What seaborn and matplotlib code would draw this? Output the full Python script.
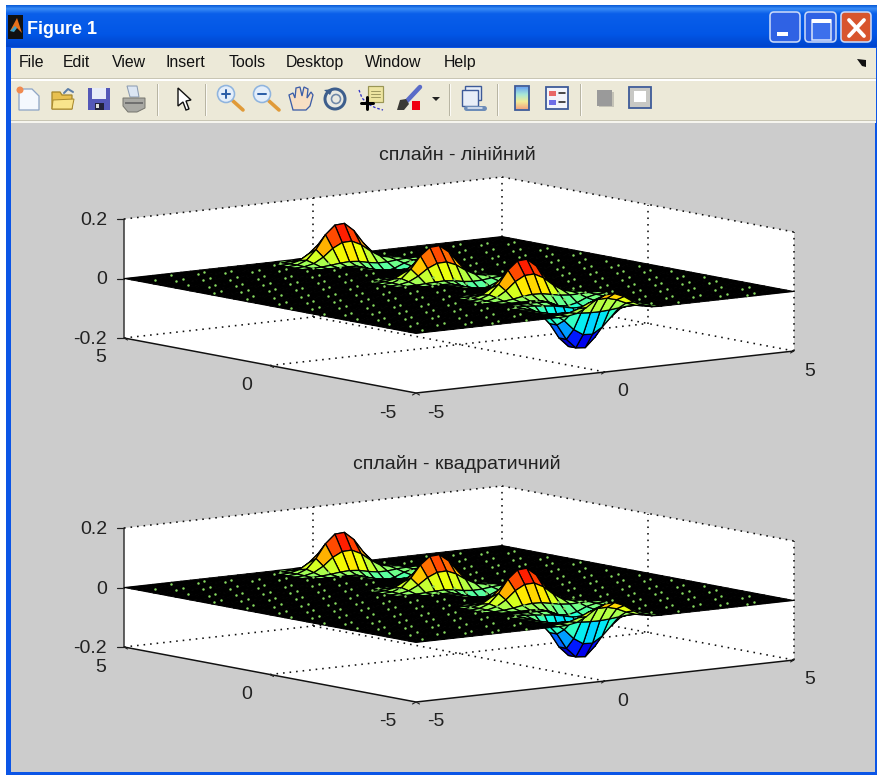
import numpy as np
import matplotlib
matplotlib.use("Agg")
import matplotlib.pyplot as plt
import seaborn as sns
from matplotlib.collections import PolyCollection
from matplotlib.colors import Normalize, LinearSegmentedColormap
from matplotlib.patches import Rectangle, Polygon, Circle, FancyBboxPatch
from matplotlib.path import Path

# ---------- data ----------
grid_step = 0.25
grid_min = -5.0
# hills: profile along the diagonal axis (index 0 = -5 ... index 40 = +5)
hill_v = [0.06, 0.04, -0.01, -0.09, -0.14, -0.14, -0.08, -0.01, 0, 0, 0.015,
          0.075, 0.12, 0.075, 0.015, 0, 0, 0, 0, 0, 0,
          0, 0.005, 0.06, 0.11, 0.065, 0.01, 0, 0, 0, 0,
          0, 0, 0, 0, 0.01, 0.07, 0.125, 0.075, 0.015, 0]
# hills: envelope across the other axis (index 0 = -5 ... index 40 = +5)
hill_u = [0, 0, 0, 0, 0, 0, 0, 0, 0, 0, 0, 0, 0, 0, 0, 0,
          0.02, 0.12, 0.38, 0.75, 0.98, 1.0, 0.78, 0.42, 0.14, 0.03,
          0, 0, 0, 0, 0, 0, 0, 0, 0, 0, 0, 0, 0, 0, 0]
# shallow troughs next to each hill
trough_v = [0, 0, 0, 0, 0, 0, 0, -0.02, -0.045, -0.03, -0.005,
            0, 0, 0, 0, 0, 0, 0, -0.01, -0.03, -0.045,
            -0.03, -0.01, 0, 0, 0, 0, 0, 0, 0, 0,
            -0.01, -0.03, -0.045, -0.03, -0.01, 0, 0, 0, 0, 0]
trough_u = [0, 0, 0, 0, 0, 0, 0, 0, 0, 0, 0, 0, 0, 0, 0, 0, 0, 0, 0, 0,
            0.05, 0.35, 0.85, 1.0, 0.75, 0.3, 0.05,
            0, 0, 0, 0, 0, 0, 0, 0, 0, 0, 0, 0, 0, 0]
titles = ["сплайн - лінійний", "сплайн - квадратичний"]
z_ticks = [-0.2, 0.0, 0.2]
z_tick_labels = ["-0.2", "0", "0.2"]
xy_ticks = [-5, 0, 5]
xy_tick_labels = ["-5", "0", "5"]
menu_items = ["File", "Edit", "View", "Insert", "Tools", "Desktop", "Window", "Help"]
menu_x = [19, 63, 112, 166, 229, 286, 365, 444]
window_title = "Figure 1"

# ---------- view geometry ----------
W, H = 879, 775
FRONT = np.array([416.0, 393.0])     # u=-5, v=-5, z=-0.2 in pixels
U_VEC = np.array([37.8, -4.2])
V_VEC = np.array([-29.2, -5.5])
Z_SCALE = 297.5
PANEL_OFFSETS = [0, 309]
Z_MIN, Z_MAX = -0.2, 0.2
LEFT_LABEL_DX = [-28, -23, -23]
RIGHT_LABEL_DX = [20, 18, 16]

sns.set_theme(style="white")
plt.rcParams["font.family"] = ["Liberation Sans", "DejaVu Sans"]
jet = matplotlib.colormaps["jet"]
norm = Normalize(-0.14, 0.13)
TXT = "#222222"

fig = plt.figure(figsize=(W / 100, H / 100), dpi=100, facecolor="white")
ax = fig.add_axes([0, 0, 1, 1])


def project(u, v, z, dy=0):
    u, v, z = np.asarray(u, float), np.asarray(v, float), np.asarray(z, float)
    x = FRONT[0] + (u + 5) * U_VEC[0] + (v + 5) * V_VEC[0]
    y = FRONT[1] + (u + 5) * U_VEC[1] + (v + 5) * V_VEC[1] - (z - Z_MIN) * Z_SCALE + dy
    return x, y


def px(lw):
    return lw * 0.72


# ---------- window chrome ----------
def rect(x0, y0, x1, y1, color, z=1, **kw):
    ax.add_patch(Rectangle((x0, y0), x1 - x0, y1 - y0, facecolor=color, edgecolor="none", zorder=z, **kw))


def chrome():
    rect(6, 5, 877, 775, "#0B55E6", 0.1)
    grad = LinearSegmentedColormap.from_list(
        "t", [(0, "#0A5CD8"), (0.08, "#3A8CF5"), (0.2, "#0A5FEA"), (0.7, "#0256E6"), (1, "#0044CC")])
    ax.imshow(np.linspace(0, 1, 64)[:, None], extent=(6, 877, 47, 5), cmap=grad, aspect="auto", zorder=0.2)
    rect(11, 123, 875, 772, "#CCCCCC", 0.3)
    rect(11, 48, 876, 123, "#ECE9D8", 0.3)
    rect(11, 77.5, 876, 79, "#C9C6B4", 0.4)
    rect(11, 79, 876, 80.5, "#FFFFFF", 0.4)
    rect(11, 119.5, 876, 121, "#C9C6B4", 0.4)
    rect(11, 121, 876, 123, "#F6F5EE", 0.4)
    # window icon
    rect(8, 15, 23, 39, "#111111", 1)
    ax.add_patch(Polygon([(10, 31), (17, 18), (22, 33), (17, 28)], facecolor="#E8701A", edgecolor="none", zorder=1.1))
    ax.add_patch(Polygon([(10, 31), (15, 26), (17, 28), (14, 32)], facecolor="#3FA0C8", edgecolor="none", zorder=1.2))
    ax.text(27, 29, window_title, color="white", fontsize=13, fontweight="bold",
            family=["Liberation Sans Narrow", "Liberation Sans"], va="center", ha="left", zorder=2)
    # window buttons
    for x0, x1, col in [(770, 800, "#2F62E4"), (805, 836, "#2F62E4"), (841, 871, "#D8552E")]:
        ax.add_patch(FancyBboxPatch((x0 + 3, 15), x1 - x0 - 6, 24, boxstyle="round,pad=3,rounding_size=4",
                                    facecolor=col, edgecolor="#C8D8F8", linewidth=px(1.6), zorder=1))
    rect(777, 32, 788, 36, "white", 2)
    ax.add_patch(Rectangle((812, 20), 19, 20, facecolor="#3C70EC", edgecolor="#DDE7FB", linewidth=px(1.5), zorder=2))
    rect(812, 19, 831, 23, "white", 2)
    ax.plot([849, 864], [20, 36], color="white", lw=px(3.8), zorder=2)
    ax.plot([849, 864], [36, 20], color="white", lw=px(3.8), zorder=2)
    # menu
    for name, x in zip(menu_items, menu_x):
        ax.text(x, 62.5, name, fontsize=11.4, color="#111111", va="center", ha="left", zorder=2)
    ax.add_patch(Polygon([(857, 59), (866, 60), (866, 67), (862, 66)], facecolor="#111111", edgecolor="none", zorder=2))
    # separators
    for x in [158, 206, 450, 498, 581]:
        rect(x - 0.7, 84, x + 0.3, 116, "#B8B5A3", 1)
        rect(x + 0.3, 84, x + 1.2, 116, "#FBFAF5", 1)

    def P(pts, fc, ec="none", lw=1.0, z=2):
        ax.add_patch(Polygon(pts, closed=True, facecolor=fc, edgecolor=ec, linewidth=px(lw), zorder=z))

    DK = "#3D5A98"
    # new
    P([(19, 89), (32, 89), (39, 96), (39, 110), (19, 110)], "#F4F8FE", "#8FA6C6", 1.3)
    ax.add_patch(Circle((20, 90), 3.5, facecolor="#F08A50", edgecolor="none", zorder=3))
    # open
    P([(52, 92), (60, 92), (62, 95), (72, 95), (72, 109), (52, 109)], "#E8C050", "#A8882C", 1.3)
    P([(53, 100), (74, 99), (72, 109), (52, 109)], "#F9E48C", "#A8882C", 1)
    ax.plot([64, 68, 73], [93, 89, 92], color="#5D7EA8", lw=px(2), zorder=3)
    # save
    rect(88, 88, 110, 110, "#5458B8", 2)
    rect(92, 88, 106, 99, "#E8ECF8", 3)
    rect(95, 103, 104, 110, "#22223A", 3)
    rect(96, 104, 99, 108, "#DDDDDD", 4)
    # print
    P([(127, 86), (137, 86), (139, 97), (130, 97)], "#DCE6F3", "#8A9AB0", 1)
    P([(123, 98), (145, 98), (145, 108), (137, 112), (128, 112), (123, 106)], "#A9A9A4", "#777770", 1)
    rect(125, 102, 143, 104, "#707070", 3)
    # arrow
    P([(178, 88), (178, 106), (183, 102), (186, 110), (189, 109), (186, 101), (191, 100)], "white", "#111111", 1.4)

    def magnifier(cx, cy, col_sign, plus):
        ax.plot([cx + 7, cx + 17], [cy + 7, cy + 16], color="#E09A38", lw=px(3.6), zorder=2, solid_capstyle="round")
        ax.add_patch(Circle((cx, cy), 8.5, facecolor="#E4EEFA", edgecolor="#8FB4DE", linewidth=px(1.6), zorder=3))
        ax.plot([cx - 4, cx + 4], [cy, cy], color=col_sign, lw=px(2), zorder=4)
        if plus:
            ax.plot([cx, cx], [cy - 4, cy + 4], color=col_sign, lw=px(2), zorder=4)

    magnifier(226, 94, "#2D5FA8", True)
    magnifier(262, 94, "#2D5FA8", False)
    # hand
    P([(293, 110), (289, 95), (293, 93), (295, 98), (296, 88), (300, 87), (302, 96), (304, 87), (308, 89),
       (307, 98), (311, 92), (313, 95), (310, 106), (306, 110)], "#F8DFC4", "#3D5EA8", 1.3)
    # rotate
    ax.add_patch(Circle((335, 99), 10, facecolor="#E9E9E2", edgecolor="#3D5E8C", linewidth=px(3), zorder=2))
    ax.add_patch(Circle((336, 99), 4.5, facecolor="#E9E9E2", edgecolor="#6F88A8", linewidth=px(1.6), zorder=3))
    P([(324, 90), (333, 89), (330, 95)], "#3D5E8C")
    # data cursor
    rect(368, 86, 383, 102, "#EDE4A0", 2)
    ax.add_patch(Rectangle((368, 86), 15, 16, facecolor="none", edgecolor="#9A9655", linewidth=px(1.2), zorder=3))
    for y in (91, 94, 97):
        ax.plot([371, 380], [y, y], color="#A09A60", lw=px(1), zorder=3)
    ax.plot([359, 362, 368, 376, 383], [90, 98, 104, 108, 110], color="#3030C8", lw=px(1.3), ls=(0, (2, 1.5)), zorder=2)
    ax.plot([361, 373], [103, 103], color="black", lw=px(3), zorder=4)
    ax.plot([367, 367], [97, 109], color="black", lw=px(3), zorder=4)
    # brush
    ax.plot([405, 420], [103, 87], color="#5A6CC8", lw=px(4.5), zorder=2)
    P([(397, 110), (400, 100), (406, 99), (409, 104), (404, 110)], "#3A3A36")
    rect(412, 101, 420, 110, "#F00010", 3)
    P([(432, 97), (440, 97), (436, 101)], "#222222")
    # link
    rect(465, 86, 481, 100, "#E8EEF8", 2)
    ax.add_patch(Rectangle((465, 86), 16, 14, facecolor="none", edgecolor=DK, linewidth=px(1.4), zorder=3))
    rect(462, 90, 478, 106, "#E8EEF8", 3)
    ax.add_patch(Rectangle((462, 90), 16, 16, facecolor="none", edgecolor=DK, linewidth=px(1.4), zorder=4))
    ax.plot([466, 475], [108, 108], color="#6C8CB8", lw=px(5), zorder=5, solid_capstyle="round")
    ax.plot([474, 484], [108, 108], color="#6C8CB8", lw=px(5), zorder=5, solid_capstyle="round")
    ax.plot([468, 482], [108, 108], color="#E8EEF8", lw=px(1.5), zorder=6)
    # colorbar
    cb = LinearSegmentedColormap.from_list("c", ["#6FA8F0", "#A8E8D8", "#F2EC98", "#F2A880"])
    ax.imshow(np.linspace(0, 1, 32)[:, None], extent=(515, 529, 109, 87), cmap=cb, aspect="auto", zorder=2)
    ax.add_patch(Rectangle((515, 86), 14.5, 23.5, facecolor="none", edgecolor=DK, linewidth=px(1.8), zorder=3))
    # legend
    rect(546, 87, 568, 109, "#F2F4FA", 2)
    ax.add_patch(Rectangle((546, 87), 22, 22, facecolor="none", edgecolor=DK, linewidth=px(1.8), zorder=3))
    rect(549, 91, 556, 96, "#E86868", 3)
    rect(549, 100, 556, 105, "#6E6EE6", 3)
    ax.plot([559, 565], [93, 93], color="#222222", lw=px(1.6), zorder=3)
    ax.plot([559, 565], [102, 102], color="#222222", lw=px(1.6), zorder=3)
    # gray square
    rect(599, 92, 614, 107, "#C4C2B6", 2)
    rect(597, 90, 612, 106, "#9A9A9A", 3)
    # panel
    rect(629, 88, 651, 108, "#C8C8C4", 2)
    rect(634, 91, 646, 102, "#FFFFFF", 3)
    ax.add_patch(Rectangle((629, 87), 22, 20.5, facecolor="none", edgecolor=DK, linewidth=px(1.8), zorder=4))


# ---------- one 3-D panel ----------
axis_vals = grid_min + grid_step * np.arange(len(hill_v))
UU, VV = np.meshgrid(axis_vals, axis_vals, indexing="ij")
ZZ = np.outer(hill_u, hill_v) + np.outer(trough_u, trough_v)

# dot rows left by the dense mesh on the flat part of the surface (rows come in close pairs)
row_spacing_u = 1.0
row_pair_offset = 0.3
dot_step = np.array([-0.36, -0.61]) * 1.3
rows = np.r_[np.arange(-12, 14) * row_spacing_u, np.arange(-12, 14) * row_spacing_u + row_pair_offset]
steps = np.arange(-14, 15)


def panel(dy, title):
    P = lambda u, v, z: project(u, v, z, dy)
    # white box: outline of the visible faces
    hex_u = [-5, -5, 5, 5, 5, -5]
    hex_v = [5, 5, 5, -5, -5, -5]
    hex_z = [-0.2, 0.2, 0.2, 0.2, -0.2, -0.2]
    cx, cy = P(hex_u, hex_v, hex_z)
    ax.add_patch(Polygon(np.c_[cx, cy], facecolor="white", edgecolor="none", zorder=3))

    # dotted box edges and grid
    dot = dict(color="#111111", lw=px(1.6), ls=(0, (1, 3.1)), zorder=3.5, dash_capstyle="butt")
    lines = [
        ([-5, 5], [5, 5], [0.2, 0.2]), ([5, 5], [5, -5], [0.2, 0.2]),
        ([5, 5], [5, 5], [-0.2, 0.2]), ([5, 5], [-5, -5], [-0.2, 0.2]),
        ([0, 0], [5, 5], [-0.2, 0.2]), ([5, 5], [0, 0], [-0.2, 0.2]),
        ([-5, 5], [5, 5], [-0.2, -0.2]), ([5, 5], [5, -5], [-0.2, -0.2]),
        ([0, 0], [-5, 5], [-0.2, -0.2]), ([-5, 5], [0, 0], [-0.2, -0.2]),
    ]
    for lu, lv, lz in lines:
        lx, ly = P(lu, lv, lz)
        ax.plot(lx, ly, **dot)

    # solid axes
    solid = dict(color="#111111", lw=px(1.5), zorder=3.6, solid_capstyle="butt")
    lx, ly = P([-5, -5], [5, 5], [-0.2, 0.2])
    ax.plot(lx, ly, color="#333333", lw=px(1.5), zorder=3.6)
    lx, ly = P([-5, -5, 5], [5, -5, -5], [-0.2, -0.2, -0.2])
    ax.plot(lx, ly, **solid)
    for t, lab in zip(z_ticks, z_tick_labels):
        tx, ty = P(-5, 5, t)
        ax.plot([tx - 7, tx], [ty, ty], color="#222222", lw=px(1.2), zorder=3.6)
        ax.text(tx - 17, ty + 1.5, lab, fontsize=14, color=TXT, ha="right", va="center", zorder=6)
    for t, lab, ldx, rdx in zip(xy_ticks, xy_tick_labels, LEFT_LABEL_DX, RIGHT_LABEL_DX):
        tx, ty = P(-5, t, -0.2)
        ax.plot([tx, tx + 3.5], [ty, ty + 2], color="#222222", lw=px(1.1), zorder=3.6)
        ax.text(tx + ldx, ty + 20, lab, fontsize=14, color=TXT, ha="center", va="center", zorder=6)
        tx, ty = P(t, -5, -0.2)
        ax.plot([tx, tx - 3.5], [ty, ty + 2], color="#222222", lw=px(1.1), zorder=3.6)
        ax.text(tx + rdx, ty + 20, lab, fontsize=14, color=TXT, ha="center", va="center", zorder=6)

    # surface faces, far side first
    sx, sy = P(UU, VV, ZZ)
    n = len(axis_vals) - 1
    polys, zvals, spread, depth = [], [], [], []
    for i in range(n):
        for j in range(n):
            ii = [i, i + 1, i + 1, i]
            jj = [j, j, j + 1, j + 1]
            polys.append(np.c_[sx[ii, jj], sy[ii, jj]])
            cell = ZZ[ii, jj]
            zvals.append(cell.mean())
            spread.append(np.ptp(cell))
            depth.append((axis_vals[i] + 0.125) * U_VEC[1] + (axis_vals[j] + 0.125) * V_VEC[1])
    zvals, spread, depth = map(np.array, (zvals, spread, depth))
    order = np.argsort(depth)
    faces = jet(norm(zvals))
    flat = spread < 0.0012
    faces[flat] = (0, 0, 0, 1)
    widths = np.where(flat, px(0.95), px(1.25))
    coll = PolyCollection([polys[k] for k in order], facecolors=faces[order], edgecolors="black",
                          linewidths=widths[order], zorder=4)
    ax.add_collection(coll)

    # green dots on the flat part
    ru, sv = np.meshgrid(rows, steps, indexing="ij")
    du = (ru + sv * dot_step[0]).ravel()
    dv = (0.55 * ru + sv * dot_step[1]).ravel()
    keep = (np.abs(du) < 4.85) & (np.abs(dv) < 4.85)
    du, dv = du[keep], dv[keep]
    dx, dy_ = P(du, dv, np.zeros_like(du))
    pts = np.c_[dx, dy_]
    hidden = np.zeros(len(pts), bool)
    for k in np.nonzero(~flat)[0]:
        hidden |= Path(polys[k]).contains_points(pts, radius=1.5)
    sns.scatterplot(x=pts[~hidden, 0], y=pts[~hidden, 1], ax=ax, s=3.2, color="#86D860",
                    linewidth=0, legend=False, zorder=5)

    ax.text(457, 155 + dy, title, fontsize=14, color=TXT, ha="center", va="center", zorder=6)


chrome()
for off, title in zip(PANEL_OFFSETS, titles):
    panel(off, title)

ax.set_xlim(0, W)
ax.set_ylim(H, 0)
ax.set_aspect("auto")
ax.axis("off")
fig.savefig("out.png", dpi=100)
